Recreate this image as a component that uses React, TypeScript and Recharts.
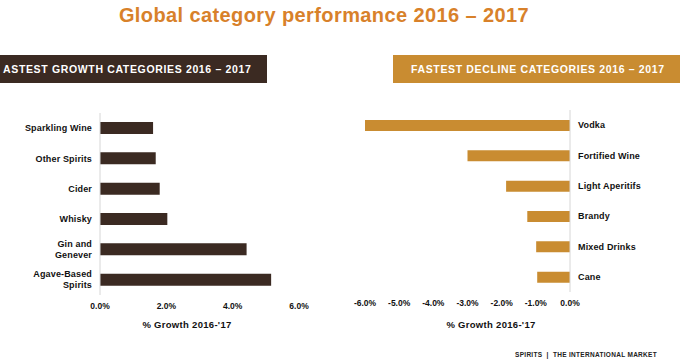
import React from 'react';
import { BarChart, Bar, XAxis, YAxis } from 'recharts';

const growthCategories = ['Sparkling Wine', 'Other Spirits', 'Cider', 'Whisky', 'Gin and Genever', 'Agave-Based Spirits'];
const growthValues = [1.6, 1.68, 1.8, 2.03, 4.42, 5.16];
const growthTicks = [0, 2, 4, 6];

const declineCategories = ['Vodka', 'Fortified Wine', 'Light Aperitifs', 'Brandy', 'Mixed Drinks', 'Cane'];
const declineValues = [-6.0, -3.0, -1.87, -1.25, -0.99, -0.96];
const declineTicks = [-6, -5, -4, -3, -2, -1, 0];

const BROWN = '#3b2a22';
const GOLD = '#c98c31';
const FONT = '"Liberation Sans", Arial, sans-serif';

const growthData = growthCategories.map((name, i) => ({ name, value: growthValues[i] }));
const declineData = declineCategories.map((name, i) => ({ name, value: declineValues[i] }));

const pct = (v: number) => `${v.toFixed(1)}%`;

// splits long names onto two lines like the original slide
const WrappedTick = (props: any) => {
  const { x, y, payload, textAnchor, wrap } = props;
  const label: string = payload.value;
  let lines = [label];
  if (wrap && label.length > 14) {
    const i = label.lastIndexOf(' ');
    lines = [label.slice(0, i), label.slice(i + 1)];
  }
  const start = y - ((lines.length - 1) * 11) / 2;
  return (
    <text x={x} y={start} textAnchor={textAnchor} fontSize={9} fontWeight="bold" fill="#111" fontFamily={FONT} dominantBaseline="central" letterSpacing={0.15}>
      {lines.map((l, i) => (
        <tspan key={i} x={x} y={start + i * 11}>
          {l}
        </tspan>
      ))}
    </text>
  );
};

const tickStyle = { fontSize: 8.5, fontWeight: 'bold' as const, fill: '#111', fontFamily: FONT };

const axisTitle: React.CSSProperties = {
  position: 'absolute',
  top: 319,
  transform: 'translateX(-50%)',
  fontSize: 9.5,
  fontWeight: 'bold',
  color: '#111',
  whiteSpace: 'nowrap',
  letterSpacing: 0.3,
};

const bannerText: React.CSSProperties = {
  position: 'absolute',
  top: 8,
  color: '#fff',
  fontSize: 10.5,
  fontWeight: 'bold',
  whiteSpace: 'nowrap',
  letterSpacing: 0.65,
};

export default function App() {
  return (
    <div style={{ position: 'absolute', left: 0, top: 0, width: 680, height: 362, background: '#fff', fontFamily: FONT, overflow: 'hidden' }}>
      <div style={{ position: 'absolute', top: 3, left: 0, width: 648, lineHeight: '24px', textAlign: 'center', fontSize: 20, fontWeight: 'bold', color: '#d8812a', letterSpacing: 0.4 }}>
        Global category performance 2016 – 2017
      </div>

      <div style={{ position: 'absolute', left: 0, top: 55, width: 267, height: 28, background: BROWN }}>
        <div style={{ ...bannerText, left: 3 }}>ASTEST GROWTH CATEGORIES 2016 – 2017</div>
      </div>
      <div style={{ position: 'absolute', left: 393, top: 55, width: 287, height: 28, background: GOLD }}>
        <div style={{ ...bannerText, left: 18 }}>FASTEST DECLINE CATEGORIES 2016 – 2017</div>
      </div>

      <div style={{ position: 'absolute', left: 0, top: 100 }}>
        <BarChart width={320} height={240} data={growthData} layout="vertical" margin={{ top: 13, right: 21, bottom: 15, left: 0 }} barCategoryGap={0}>
          <XAxis type="number" domain={[0, 6]} ticks={growthTicks} tickFormatter={pct} axisLine={false} tickLine={false} tick={tickStyle} height={30} interval={0} />
          <YAxis type="category" dataKey="name" width={100} axisLine={{ stroke: '#d6d6d6' }} tickLine={false} tick={<WrappedTick wrap />} interval={0} />
          <Bar dataKey="value" fill={BROWN} barSize={12} isAnimationActive={false} />
        </BarChart>
      </div>
      <div style={{ ...axisTitle, left: 187 }}>% Growth 2016-'17</div>

      <div style={{ position: 'absolute', left: 340, top: 100 }}>
        <BarChart width={340} height={240} data={declineData} layout="vertical" margin={{ top: 10, right: 0, bottom: 18, left: 25 }} barCategoryGap={0}>
          <XAxis type="number" domain={[-6, 0]} ticks={declineTicks} tickFormatter={pct} axisLine={false} tickLine={false} tick={tickStyle} height={30} interval={0} />
          <YAxis type="category" dataKey="name" orientation="right" width={110} axisLine={{ stroke: '#d6d6d6' }} tickLine={false} tick={<WrappedTick wrap={false} />} interval={0} />
          <Bar dataKey="value" fill={GOLD} barSize={11} isAnimationActive={false} />
        </BarChart>
      </div>
      <div style={{ ...axisTitle, left: 491 }}>% Growth 2016-'17</div>

      <div style={{ position: 'absolute', left: 515, top: 350, lineHeight: '9px', fontSize: 6.5, fontWeight: 'bold', color: '#222', whiteSpace: 'nowrap', letterSpacing: 0.3 }}>
        SPIRITS &nbsp;|&nbsp; THE INTERNATIONAL MARKET
      </div>
    </div>
  );
}
